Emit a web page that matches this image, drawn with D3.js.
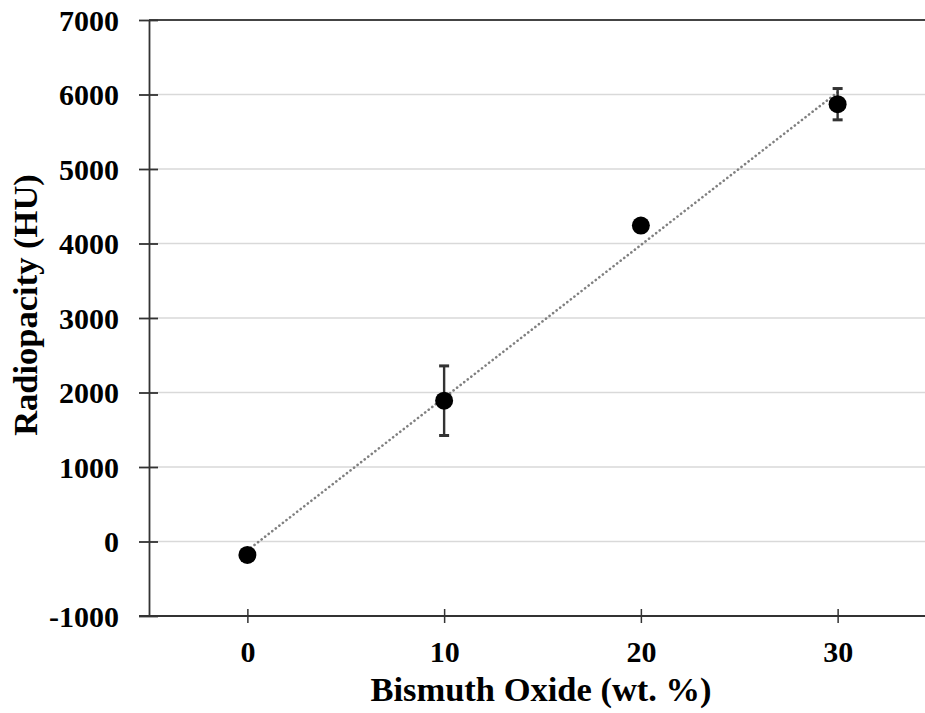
<!DOCTYPE html>
<html>
<head>
<meta charset="utf-8">
<script src="https://cdn.jsdelivr.net/npm/d3@7"></script>
<style>
  html, body { margin: 0; padding: 0; background: #fff; }
  svg { display: block; }
</style>
</head>
<body>
<script>
// data
const loading = [0, 10, 20, 30];              // Bismuth Oxide (wt. %)
const radiopacity = [-180, 1890, 4240, 5870];  // HU
const sd = [0, 467, 0, 210];                   // error bar half-length
const trendX = [0, 30];
const trendY = [-120, 6030];
const yTicks = [-1000, 0, 1000, 2000, 3000, 4000, 5000, 6000, 7000];
const xTicks = [0, 10, 20, 30];

const width = 925;
const height = 713;
const font = "'Liberation Serif', 'Times New Roman', serif";

const x = d3.scaleLinear().domain([-5, 35]).range([149, 936]);
const y = d3.scaleLinear().domain([-1000, 7000]).range([616, 20]);

const svg = d3.create('svg')
  .attr('width', width)
  .attr('height', height)
  .attr('viewBox', [0, 0, width, height]);

// gridlines
svg.append('g')
  .selectAll('line')
  .data(yTicks.filter(v => v > -1000 && v < 7000))
  .join('line')
  .attr('x1', x(-5)).attr('x2', x(35))
  .attr('y1', d => y(d)).attr('y2', d => y(d))
  .attr('stroke', '#d9d9d9')
  .attr('stroke-width', 1.6);

// top border at 7000
svg.append('line')
  .attr('x1', x(-5)).attr('x2', x(35))
  .attr('y1', y(7000)).attr('y2', y(7000))
  .attr('stroke', '#444')
  .attr('stroke-width', 1.8);

// y axis
const yAxis = svg.append('g')
  .attr('transform', `translate(${x(-5)},0)`)
  .call(d3.axisLeft(y).tickValues(yTicks).tickFormat(d => String(d))
    .tickSize(10).tickPadding(20).tickSizeOuter(0));
yAxis.select('.domain').attr('stroke', '#333').attr('stroke-width', 1.8);
yAxis.selectAll('.tick line').attr('stroke', '#333').attr('stroke-width', 1.8).attr('x2', -10).attr('x1', 9);
yAxis.selectAll('.tick text')
  .attr('font-family', font).attr('font-weight', 'bold').attr('font-size', 30)
  .attr('fill', '#000').attr('dy', '0.34em');

// x axis
const xAxis = svg.append('g')
  .attr('transform', `translate(0,${y(-1000)})`)
  .call(d3.axisBottom(x).tickValues(xTicks).tickFormat(d => String(d))
    .tickSize(7).tickPadding(0).tickSizeOuter(0));
xAxis.select('.domain').attr('stroke', '#333').attr('stroke-width', 1.8)
  .attr('d', `M${x(-5) - 10},0H${x(35)}`);
xAxis.selectAll('.tick line').attr('stroke', '#333').attr('stroke-width', 1.5).attr('y1', -7).attr('y2', 7);
xAxis.selectAll('.tick text')
  .attr('font-family', font).attr('font-weight', 'bold').attr('font-size', 30)
  .attr('fill', '#000').attr('dy', null).attr('y', 46);

// trend line
svg.append('path')
  .attr('d', d3.line().x(d => x(d[0])).y(d => y(d[1]))(d3.zip(trendX, trendY)))
  .attr('fill', 'none')
  .attr('stroke', '#808080')
  .attr('stroke-width', 2.6)
  .attr('stroke-linecap', 'round')
  .attr('stroke-dasharray', '0.1 4.4');

const pts = loading.map((d, i) => ({ x: d, y: radiopacity[i], e: sd[i] }));

// error bars
const eb = svg.append('g').selectAll('g').data(pts.filter(d => d.e > 0)).join('g')
  .attr('stroke', '#333').attr('stroke-width', 2.4);
eb.append('line')
  .attr('x1', d => x(d.x)).attr('x2', d => x(d.x))
  .attr('y1', d => y(d.y - d.e)).attr('y2', d => y(d.y + d.e));
eb.append('line')
  .attr('x1', d => x(d.x) - 5).attr('x2', d => x(d.x) + 5)
  .attr('y1', d => y(d.y + d.e)).attr('y2', d => y(d.y + d.e))
  .attr('stroke-width', 3);
eb.append('line')
  .attr('x1', d => x(d.x) - 5).attr('x2', d => x(d.x) + 5)
  .attr('y1', d => y(d.y - d.e)).attr('y2', d => y(d.y - d.e))
  .attr('stroke-width', 3);

// markers
svg.append('g').selectAll('circle').data(pts).join('circle')
  .attr('cx', d => x(d.x))
  .attr('cy', d => y(d.y))
  .attr('r', 9)
  .attr('fill', '#000');

// axis titles
svg.append('text')
  .attr('x', 541).attr('y', 701)
  .attr('text-anchor', 'middle')
  .attr('font-family', font).attr('font-weight', 'bold').attr('font-size', 34.5)
  .text('Bismuth Oxide (wt. %)');

svg.append('text')
  .attr('transform', 'translate(37,305) rotate(-90)')
  .attr('text-anchor', 'middle')
  .attr('font-family', font).attr('font-weight', 'bold').attr('font-size', 34.5)
  .text('Radiopacity (HU)');

document.body.appendChild(svg.node());
</script>
</body>
</html>
